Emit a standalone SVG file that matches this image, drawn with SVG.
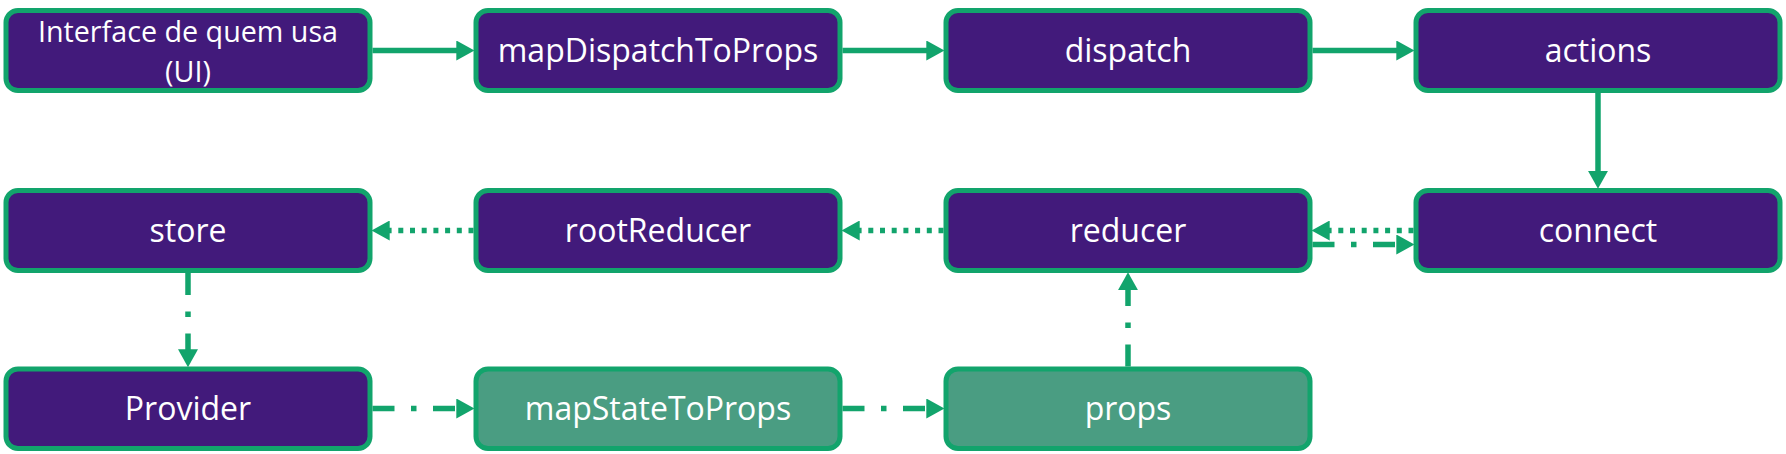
<svg xmlns="http://www.w3.org/2000/svg" width="1786" height="454" viewBox="0 0 1786 454">
<defs>
<style>
.n rect{stroke:#12A46C;stroke-width:5}
.p rect{fill:#421A7B}
.g rect{fill:#4A9D82}
.n text{font-family:"Open Sans","Noto Sans","DejaVu Sans",sans-serif;font-size:32px;fill:#FFFFFF;text-anchor:middle}
.c line{stroke:#12A46C;stroke-width:5.5;fill:none;marker-end:url(#ah)}
.dot{stroke-dasharray:5 6.7}
.dd{stroke-dasharray:22 16.5 5.5 16.5}
</style>
<marker id="ah" markerUnits="userSpaceOnUse" markerWidth="18" markerHeight="20" refX="3" refY="9.5" orient="auto" viewBox="0 0 17 19">
<path d="M0,0 L17,9.5 L0,19 z" fill="#12A46C"/>
</marker>
</defs>
<rect width="1786" height="454" fill="#FFFFFF"/>
<g id="connectors" class="c">
<line x1="372.5" y1="50.5" x2="459.5" y2="50.5"/>
<line x1="842.5" y1="50.5" x2="929.5" y2="50.5"/>
<line x1="1312.5" y1="50.5" x2="1399.5" y2="50.5"/>
<line x1="1598" y1="93" x2="1598" y2="174"/>
<line class="dot" x1="1413.5" y1="230.5" x2="1326.5" y2="230.5"/>
<line class="dd" x1="1312.5" y1="244.5" x2="1399.5" y2="244.5"/>
<line class="dot" x1="943.5" y1="230.5" x2="856.5" y2="230.5"/>
<line class="dot" x1="473.5" y1="230.5" x2="386.5" y2="230.5"/>
<line class="dd" x1="188" y1="273" x2="188" y2="352.5"/>
<line class="dd" x1="372.5" y1="408.5" x2="459.5" y2="408.5"/>
<line class="dd" x1="842.5" y1="408.5" x2="929.5" y2="408.5"/>
<line class="dd" x1="1128" y1="366.5" x2="1128" y2="287"/>
</g>
<g id="ui" class="n p"><rect x="6" y="10.5" width="364" height="80" rx="12"/><text x="188" y="41.5" style="font-size:28.7px">Interface de quem usa</text><text x="188" y="81.5" style="font-size:28.7px">(UI)</text></g>
<g id="mapDispatchToProps" class="n p"><rect x="476" y="10.5" width="364" height="80" rx="12"/><text x="658" y="62">mapDispatchToProps</text></g>
<g id="dispatch" class="n p"><rect x="946" y="10.5" width="364" height="80" rx="12"/><text x="1128" y="62">dispatch</text></g>
<g id="actions" class="n p"><rect x="1416" y="10.5" width="364" height="80" rx="12"/><text x="1598" y="62">actions</text></g>
<g id="store" class="n p"><rect x="6" y="190.5" width="364" height="80" rx="12"/><text x="188" y="242">store</text></g>
<g id="rootReducer" class="n p"><rect x="476" y="190.5" width="364" height="80" rx="12"/><text x="658" y="242">rootReducer</text></g>
<g id="reducer" class="n p"><rect x="946" y="190.5" width="364" height="80" rx="12"/><text x="1128" y="242">reducer</text></g>
<g id="connect" class="n p"><rect x="1416" y="190.5" width="364" height="80" rx="12"/><text x="1598" y="242">connect</text></g>
<g id="provider" class="n p"><rect x="6" y="369" width="364" height="79.5" rx="12"/><text x="188" y="420">Provider</text></g>
<g id="mapStateToProps" class="n g"><rect x="476" y="369" width="364" height="79.5" rx="12"/><text x="658" y="420">mapStateToProps</text></g>
<g id="props" class="n g"><rect x="946" y="369" width="364" height="79.5" rx="12"/><text x="1128" y="420">props</text></g>
</svg>
